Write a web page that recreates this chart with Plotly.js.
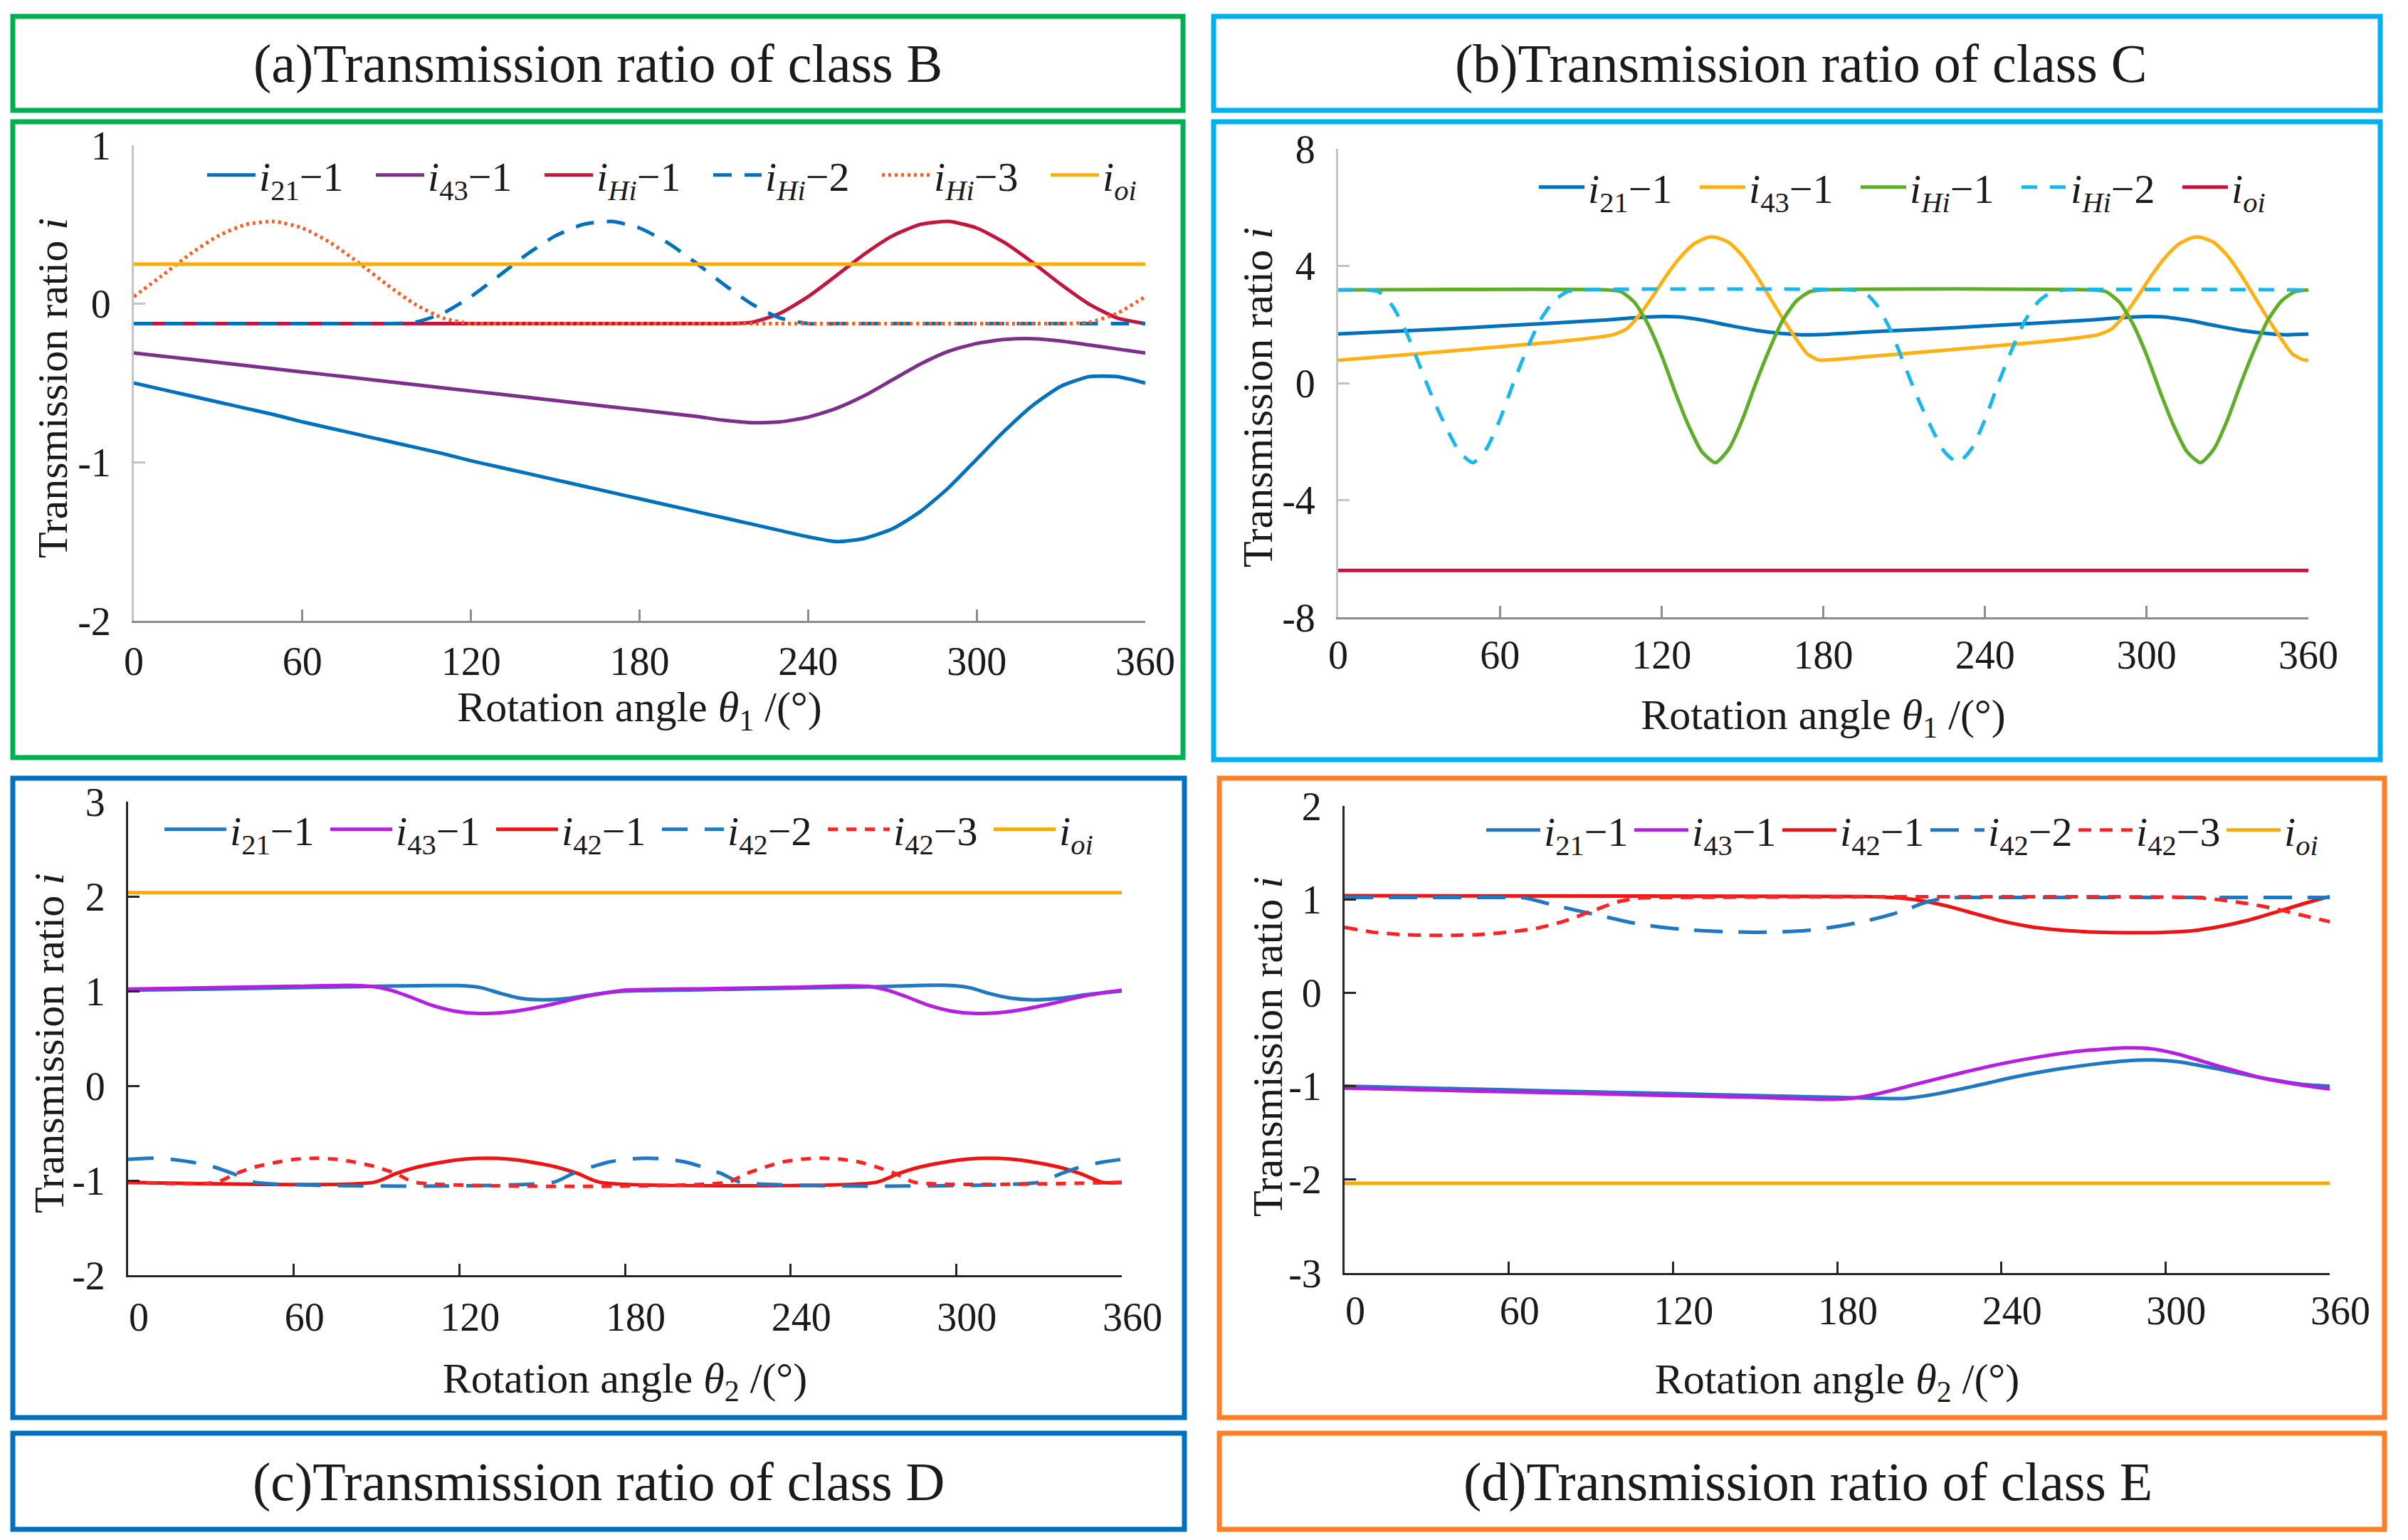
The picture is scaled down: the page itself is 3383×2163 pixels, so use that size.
<!DOCTYPE html>
<html>
<head>
<meta charset="utf-8">
<script src="https://cdn.plot.ly/plotly-3.0.1.min.js"></script>
<style>
html, body { margin: 0; padding: 0; background: #ffffff; }
#chart { width: 3383px; height: 2163px; }
</style>
</head>
<body>
<div id="chart"></div>
<script>
// ---------------- DATA ----------------
const X_TICKS = [0, 60, 120, 180, 240, 300, 360];
const X_TICKTEXT = ['0', '60', '120', '180', '240', '300', '360'];
const X_ENDS = [0, 360];

// (a) class B
const A_TICKS = [1, 0, -1, -2];
const A_TICKTEXT = ['1', '0', '-1', '-2'];
const A_theta = [0,10,20,30,40,50,60,70,80,90,100,110,120,130,140,150,160,170,180,190,200,210,220,230,240,250,260,270,280,290,300,310,320,330,340,350,360];
const A_i21 = [-0.50,-0.54,-0.58,-0.62,-0.66,-0.70,-0.745,-0.785,-0.825,-0.865,-0.905,-0.945,-0.99,-1.03,-1.07,-1.11,-1.15,-1.19,-1.23,-1.27,-1.31,-1.35,-1.39,-1.43,-1.47,-1.50,-1.48,-1.42,-1.31,-1.16,-0.98,-0.80,-0.64,-0.52,-0.46,-0.46,-0.50];
const A_i43 = [-0.31,-0.33,-0.35,-0.37,-0.39,-0.41,-0.43,-0.45,-0.47,-0.49,-0.51,-0.53,-0.55,-0.57,-0.59,-0.61,-0.63,-0.65,-0.67,-0.69,-0.71,-0.735,-0.75,-0.745,-0.715,-0.66,-0.58,-0.48,-0.38,-0.30,-0.25,-0.225,-0.22,-0.235,-0.26,-0.285,-0.31];
const A_iHi1 = [-0.125,-0.125,-0.125,-0.125,-0.125,-0.125,-0.125,-0.125,-0.125,-0.125,-0.125,-0.125,-0.125,-0.125,-0.125,-0.125,-0.125,-0.125,-0.125,-0.125,-0.125,-0.125,-0.117,-0.06,0.045,0.177,0.313,0.428,0.501,0.519,0.478,0.385,0.259,0.122,-0.002,-0.09,-0.125];
const A_iHi2 = [-0.125,-0.125,-0.125,-0.125,-0.125,-0.125,-0.125,-0.125,-0.125,-0.125,-0.117,-0.06,0.045,0.177,0.313,0.428,0.501,0.519,0.478,0.385,0.259,0.122,-0.002,-0.09,-0.125,-0.125,-0.125,-0.125,-0.125,-0.125,-0.125,-0.125,-0.125,-0.125,-0.125,-0.125,-0.125];
const A_iHi3 = [0.045,0.177,0.313,0.428,0.501,0.519,0.478,0.385,0.259,0.122,-0.002,-0.09,-0.125,-0.125,-0.125,-0.125,-0.125,-0.125,-0.125,-0.125,-0.125,-0.125,-0.125,-0.125,-0.125,-0.125,-0.125,-0.125,-0.125,-0.125,-0.125,-0.125,-0.125,-0.125,-0.117,-0.06,0.045];
const A_ioi = [0.25, 0.25];

// (b) class C
const B_TICKS = [8, 4, 0, -4, -8];
const B_TICKTEXT = ['8', '4', '0', '-4', '-8'];
const B_i21_x = [0,20,40,60,80,100,110,118,126,135,145,155,165,172,180,190,200,220,240,260,280,290,298,306,315,325,335,345,352,360];
const B_i21_y = [1.68,1.76,1.85,1.95,2.05,2.16,2.23,2.27,2.26,2.15,1.97,1.80,1.69,1.65,1.66,1.71,1.76,1.85,1.95,2.05,2.16,2.23,2.27,2.26,2.15,1.97,1.80,1.69,1.65,1.67];
const B_i43_x = [0,20,40,60,80,95,102,107,112,117,122,127,132,137,140,145,150,155,160,165,170,174,178,180,200,220,240,260,275,282,287,292,297,302,307,312,317,320,325,330,335,340,345,350,354,358,360];
const B_i43_y = [0.78,0.93,1.08,1.24,1.40,1.55,1.65,1.85,2.35,3.0,3.7,4.3,4.75,4.97,4.98,4.8,4.35,3.7,2.95,2.2,1.5,1.0,0.8,0.78,0.93,1.08,1.24,1.40,1.55,1.65,1.85,2.35,3.0,3.7,4.3,4.75,4.97,4.98,4.8,4.35,3.7,2.95,2.2,1.5,1.0,0.8,0.78];
const B_iHi1_x = [0,100,105,110,115,120,125,130,135,140,145,150,155,160,165,170,175,180,280,285,290,295,300,305,310,315,320,325,330,335,340,345,350,355,360];
const B_iHi1_y = [3.18,3.18,3.12,2.75,2.0,0.95,-0.3,-1.45,-2.35,-2.72,-2.25,-1.25,0.0,1.15,2.15,2.8,3.12,3.18,3.18,3.12,2.75,2.0,0.95,-0.3,-1.45,-2.35,-2.72,-2.25,-1.25,0.0,1.15,2.15,2.8,3.12,3.18];
const B_iHi2_x = [0,10,15,20,25,30,35,40,45,50,55,60,65,70,75,80,85,90,190,195,200,205,210,215,220,225,230,235,240,245,250,255,260,265,270,360];
const B_iHi2_y = [3.18,3.18,3.12,2.65,1.8,0.65,-0.5,-1.5,-2.35,-2.72,-2.25,-1.25,0.0,1.15,2.15,2.8,3.12,3.18,3.18,3.12,2.65,1.8,0.65,-0.5,-1.5,-2.35,-2.72,-2.25,-1.25,0.0,1.15,2.15,2.8,3.12,3.18,3.18];
const B_ioi = [-6.4, -6.4];

// (c) class D
const C_TICKS = [3, 2, 1, 0, -1, -2];
const C_TICKTEXT = ['3', '2', '1', '0', '-1', '-2'];
const C_i21_x = [0,30,60,90,110,120,128,135,142,150,160,170,180,210,240,270,288,297,305,312,320,328,338,348,360];
const C_i21_y = [1.01,1.02,1.035,1.05,1.058,1.058,1.035,0.975,0.925,0.908,0.925,0.97,1.0,1.015,1.03,1.045,1.06,1.06,1.035,0.975,0.925,0.908,0.925,0.965,1.0];
const C_i43_x = [0,30,60,80,88,95,102,110,118,126,135,145,155,165,175,180,210,240,260,268,275,282,290,298,306,315,325,335,345,355,360];
const C_i43_y = [1.02,1.035,1.05,1.06,1.05,1.01,0.94,0.85,0.79,0.765,0.77,0.81,0.87,0.94,0.99,1.01,1.025,1.04,1.055,1.05,1.01,0.94,0.85,0.79,0.765,0.77,0.81,0.87,0.94,0.99,1.01];
const C_i42_1_x = [0,89,97,105,114,122,130,138,146,155,163,171,271,279,287,296,304,312,320,328,337,345,353,360];
const C_i42_1_y = [-1.02,-1.02,-0.928,-0.857,-0.806,-0.775,-0.765,-0.775,-0.806,-0.857,-0.928,-1.02,-1.02,-0.928,-0.857,-0.806,-0.775,-0.765,-0.775,-0.806,-0.857,-0.928,-1.02,-1.02];
const C_i42_2_x = [0,8,15,23,31,38,46,154,161,168,174,181,188,195,202,208,215,222,330,338,345,353,360];
const C_i42_2_y = [-0.777,-0.765,-0.775,-0.806,-0.857,-0.928,-1.02,-1.02,-0.928,-0.857,-0.806,-0.775,-0.765,-0.775,-0.806,-0.857,-0.928,-1.02,-1.02,-0.928,-0.857,-0.806,-0.777];
const C_i42_3_x = [0,32,39,46,54,61,68,75,82,90,97,104,217,224,231,237,244,251,258,265,271,278,285,360];
const C_i42_3_y = [-1.02,-1.02,-0.928,-0.857,-0.806,-0.775,-0.765,-0.775,-0.806,-0.857,-0.928,-1.02,-1.02,-0.928,-0.857,-0.806,-0.775,-0.765,-0.775,-0.806,-0.857,-0.928,-1.02,-1.02];
const C_ioi = [2.04, 2.04];

// (d) class E
const D_TICKS = [2, 1, 0, -1, -2, -3];
const D_TICKTEXT = ['2', '1', '0', '-1', '-2', '-3'];
const D_i21_x = [0,30,60,90,120,150,180,195,205,215,230,245,260,275,285,295,305,320,335,350,360];
const D_i21_y = [-1.0,-1.02,-1.04,-1.06,-1.08,-1.10,-1.12,-1.13,-1.13,-1.09,-1.0,-0.9,-0.82,-0.76,-0.73,-0.72,-0.74,-0.82,-0.91,-0.98,-1.0];
const D_i43_x = [0,30,60,90,120,150,175,185,195,210,225,240,255,270,285,295,305,320,335,350,360];
const D_i43_y = [-1.02,-1.04,-1.06,-1.08,-1.10,-1.12,-1.14,-1.13,-1.08,-0.97,-0.86,-0.76,-0.68,-0.62,-0.59,-0.60,-0.66,-0.79,-0.91,-0.99,-1.03];
const D_i42_1_x = [0,100,190,200,210,220,230,240,250,260,270,280,290,300,310,320,330,340,350,360];
const D_i42_1_y = [1.04,1.035,1.03,1.02,0.99,0.93,0.85,0.77,0.71,0.675,0.655,0.645,0.643,0.648,0.665,0.71,0.775,0.86,0.95,1.03];
const D_i42_2_x = [0,60,66,75,85,95,105,115,125,135,150,160,170,180,190,200,207,213,220,230,360];
const D_i42_2_y = [1.02,1.02,1.015,0.95,0.88,0.815,0.75,0.705,0.675,0.658,0.648,0.652,0.67,0.71,0.765,0.84,0.91,0.975,1.015,1.02,1.02];
const D_i42_3_x = [0,10,20,30,40,50,60,70,80,90,100,108,115,310,320,330,340,350,360];
const D_i42_3_y = [0.70,0.65,0.625,0.615,0.615,0.625,0.65,0.69,0.765,0.87,0.975,1.015,1.02,1.02,0.995,0.955,0.9,0.83,0.76];
const D_ioi = [-2.04, -2.04];

// legend names
const N_i21 = '<i>i</i><sub>21</sub>−1';
const N_i43 = '<i>i</i><sub>43</sub>−1';
const N_iHi1 = '<i>i</i><sub><i>Hi</i></sub>−1';
const N_iHi2 = '<i>i</i><sub><i>Hi</i></sub>−2';
const N_iHi3 = '<i>i</i><sub><i>Hi</i></sub>−3';
const N_i42_1 = '<i>i</i><sub>42</sub>−1';
const N_i42_2 = '<i>i</i><sub>42</sub>−2';
const N_i42_3 = '<i>i</i><sub>42</sub>−3';
const N_ioi = '<i>i</i><sub><i>oi</i></sub>';
const Y_TITLE = 'Transmission ratio <i>i</i>';

// ---------------- STYLE / LAYOUT ----------------
const W = 3383, H = 2163;
const FONT = 'Liberation Serif';
const TXT = '#1a1a1a';
const px = v => v / W;
const py = v => 1 - v / H;

function tr(x, y, name, color, dash, xa, ya, leg) {
  return {
    type: 'scatter', mode: 'lines', x: x, y: y, name: name,
    xaxis: xa, yaxis: ya, legend: leg, showlegend: true, hoverinfo: 'skip',
    line: { color: color, width: 5, dash: dash, shape: 'spline', smoothing: 0.6 }
  };
}

const traces = [
  // (a)
  tr(A_theta, A_i21, N_i21, '#0072bd', 'solid', 'x', 'y', 'legend'),
  tr(A_theta, A_i43, N_i43, '#7e2f8e', 'solid', 'x', 'y', 'legend'),
  tr(A_theta, A_iHi1, N_iHi1, '#c4163c', 'solid', 'x', 'y', 'legend'),
  tr(A_theta, A_iHi2, N_iHi2, '#0072bd', '26px,18px', 'x', 'y', 'legend'),
  tr(A_theta, A_iHi3, N_iHi3, '#ff5a1f', '4px,5px', 'x', 'y', 'legend'),
  tr(X_ENDS, A_ioi, N_ioi, '#ffad00', 'solid', 'x', 'y', 'legend'),
  // (b)
  tr(B_i21_x, B_i21_y, N_i21, '#0072bd', 'solid', 'x2', 'y2', 'legend2'),
  tr(B_i43_x, B_i43_y, N_i43, '#ffb114', 'solid', 'x2', 'y2', 'legend2'),
  tr(B_iHi1_x, B_iHi1_y, N_iHi1, '#5fae2a', 'solid', 'x2', 'y2', 'legend2'),
  tr(B_iHi2_x, B_iHi2_y, N_iHi2, '#1ab6ee', '22px,18px', 'x2', 'y2', 'legend2'),
  tr(X_ENDS, B_ioi, N_ioi, '#c8143c', 'solid', 'x2', 'y2', 'legend2'),
  // (c)
  tr(C_i21_x, C_i21_y, N_i21, '#1f78c1', 'solid', 'x3', 'y3', 'legend3'),
  tr(C_i43_x, C_i43_y, N_i43, '#b41fe2', 'solid', 'x3', 'y3', 'legend3'),
  tr(C_i42_1_x, C_i42_1_y, N_i42_1, '#ec1414', 'solid', 'x3', 'y3', 'legend3'),
  tr(C_i42_2_x, C_i42_2_y, N_i42_2, '#1f78c1', '36px,24px', 'x3', 'y3', 'legend3'),
  tr(C_i42_3_x, C_i42_3_y, N_i42_3, '#ff2222', '14px,12px', 'x3', 'y3', 'legend3'),
  tr(X_ENDS, C_ioi, N_ioi, '#f8aa00', 'solid', 'x3', 'y3', 'legend3'),
  // (d)
  tr(D_i21_x, D_i21_y, N_i21, '#1f78c1', 'solid', 'x4', 'y4', 'legend4'),
  tr(D_i43_x, D_i43_y, N_i43, '#b41fe2', 'solid', 'x4', 'y4', 'legend4'),
  tr(D_i42_1_x, D_i42_1_y, N_i42_1, '#ec1414', 'solid', 'x4', 'y4', 'legend4'),
  tr(D_i42_2_x, D_i42_2_y, N_i42_2, '#1f78c1', '40px,22px', 'x4', 'y4', 'legend4'),
  tr(D_i42_3_x, D_i42_3_y, N_i42_3, '#ff2222', '18px,12px', 'x4', 'y4', 'legend4'),
  tr(X_ENDS, D_ioi, N_ioi, '#f8aa00', 'solid', 'x4', 'y4', 'legend4')
];

function xAxis(dom, anchor, col, shift, lblStand, titleText, standoff) {
  return {
    domain: dom, anchor: anchor, range: [0, 360], fixedrange: true,
    tickmode: 'array', tickvals: X_TICKS, ticktext: X_TICKTEXT,
    ticks: 'inside', ticklen: 16, tickwidth: 3, tickcolor: col,
    showline: true, linecolor: col, linewidth: 3, showgrid: false, zeroline: false,
    tickfont: { family: FONT, size: 56, color: TXT },
    ticklabelstandoff: lblStand, ticklabelshift: shift,
    title: { text: titleText, font: { family: FONT, size: 60, color: TXT }, standoff: standoff }
  };
}
function yAxis(dom, anchor, col, range, tv, tt) {
  return {
    domain: dom, anchor: anchor, range: range, fixedrange: true,
    tickmode: 'array', tickvals: tv, ticktext: tt,
    ticks: 'inside', ticklen: 16, tickwidth: 3, tickcolor: col,
    showline: true, linecolor: col, linewidth: 3, showgrid: false, zeroline: false,
    tickfont: { family: FONT, size: 56, color: TXT },
    ticklabelstandoff: 18,
    title: { text: '' }
  };
}

function legendBox(xLeft, yMid, itemW, entryW) {
  return {
    x: px(xLeft), y: py(yMid), xanchor: 'left', yanchor: 'middle',
    orientation: 'h', bgcolor: 'rgba(0,0,0,0)', borderwidth: 0,
    font: { family: FONT, size: 58, color: TXT },
    itemwidth: itemW, entrywidth: entryW, entrywidthmode: 'pixels',
    itemclick: false, itemdoubleclick: false, tracegroupgap: 0
  };
}

function rect(x0, y0, x1, y1, col) {
  return { type: 'rect', xref: 'paper', yref: 'paper', x0: px(x0), x1: px(x1), y0: py(y1), y1: py(y0),
           line: { color: col, width: 7 }, fillcolor: 'rgba(0,0,0,0)', layer: 'above' };
}
function title(text, cx, cy) {
  return { xref: 'paper', yref: 'paper', x: px(cx), y: py(cy), xanchor: 'center', yanchor: 'middle',
           text: text, showarrow: false, font: { family: FONT, size: 76, color: TXT } };
}
function yTitle(cx, cy) {
  return { xref: 'paper', yref: 'paper', x: px(cx), y: py(cy), xanchor: 'center', yanchor: 'middle',
           text: Y_TITLE, textangle: -90, showarrow: false, font: { family: FONT, size: 60, color: TXT } };
}

const GA = '#8c8c8c', GAy = '#c4c4c4', DK = '#262626';
const GREEN = '#00b050', CYAN = '#00b0f0', BLUE = '#0070c0', ORANGE = '#ff7f27';

const layout = {
  width: W, height: H, margin: { l: 0, r: 0, t: 0, b: 0 },
  paper_bgcolor: '#ffffff', plot_bgcolor: 'rgba(0,0,0,0)',
  font: { family: FONT, color: TXT },
  xaxis:  xAxis([px(188), px(1609)], 'y', GA, 0, 6, 'Rotation angle <i>θ</i><sub>1</sub> /(°)', 10),
  yaxis:  yAxis([py(872), py(204)], 'x', GAy, [-2, 1], A_TICKS, A_TICKTEXT),
  xaxis2: xAxis([px(1880), px(3243)], 'y2', GA, 0, 2, 'Rotation angle <i>θ</i><sub>1</sub> /(°)', 32),
  yaxis2: yAxis([py(867), py(209)], 'x2', GAy, [-8, 8], B_TICKS, B_TICKTEXT),
  xaxis3: xAxis([px(180), px(1576)], 'y3', DK, 15, 8, 'Rotation angle <i>θ</i><sub>2</sub> /(°)', 34),
  yaxis3: yAxis([py(1791), py(1126)], 'x3', DK, [-2, 3], C_TICKS, C_TICKTEXT),
  xaxis4: xAxis([px(1889), px(3273)], 'y4', DK, 15, 2, 'Rotation angle <i>θ</i><sub>2</sub> /(°)', 44),
  yaxis4: yAxis([py(1788), py(1132)], 'x4', DK, [-3, 2], D_TICKS, D_TICKTEXT),
  legend:  legendBox(286, 246, 68, 154),
  legend2: legendBox(2157, 263, 64, 147),
  legend3: legendBox(226, 1165, 87, 131),
  legend4: legendBox(2083, 1166, 76, 117),
  shapes: [
    rect(18, 23, 1662, 155, GREEN), rect(18, 171, 1662, 1064, GREEN),
    rect(1705, 23, 3344, 155, CYAN), rect(1705, 171, 3344, 1067, CYAN),
    rect(18, 1093, 1664, 1991, BLUE), rect(18, 2013, 1664, 2148, BLUE),
    rect(1713, 1093, 3350, 1991, ORANGE), rect(1713, 2013, 3350, 2148, ORANGE)
  ],
  annotations: [
    title('(a)Transmission ratio of class B', 840, 89),
    title('(b)Transmission ratio of class C', 2530, 89),
    title('(c)Transmission ratio of class D', 841, 2081),
    title('(d)Transmission ratio of class E', 2540, 2081),
    yTitle(74, 545),
    yTitle(1767, 558),
    yTitle(69, 1465),
    yTitle(1781, 1470)
  ]
};

Plotly.newPlot('chart', traces, layout, { displayModeBar: false, responsive: false });
</script>
</body>
</html>
